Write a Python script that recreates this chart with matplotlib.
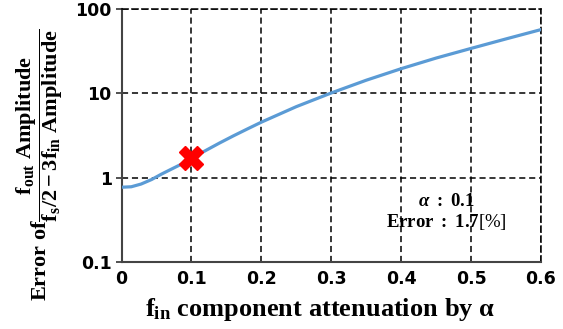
import numpy as np
import matplotlib
matplotlib.use("Agg")
import matplotlib.pyplot as plt

# curve
alpha = [0.0, 0.014, 0.028, 0.043, 0.057, 0.072, 0.086, 0.1, 0.12, 0.14,
         0.16, 0.18, 0.2, 0.25, 0.3, 0.35, 0.4, 0.45, 0.5, 0.55, 0.6]
error = [0.77, 0.78, 0.84, 0.95, 1.10, 1.27, 1.45, 1.70, 2.09, 2.57,
         3.13, 3.78, 4.55, 6.95, 10.1, 14.3, 19.6, 26.2, 34.1, 44.2, 57.0]

mark_x = [0.1]
mark_y = [1.7]

xticks = [0, 0.1, 0.2, 0.3, 0.4, 0.5, 0.6]
xticklabels = ["0", "0.1", "0.2", "0.3", "0.4", "0.5", "0.6"]
yticks = [0.1, 1, 10, 100]
yticklabels = ["0.1", "1", "10", "100"]

plt.rcParams['mathtext.fontset'] = 'custom'
plt.rcParams['mathtext.rm'] = 'Liberation Serif:bold'
plt.rcParams['mathtext.bf'] = 'Liberation Serif:bold'
plt.rcParams['mathtext.it'] = 'Liberation Serif:italic:bold'

fig = plt.figure(figsize=(5.63, 3.29), dpi=100)
ax = fig.add_axes([121.5/563, 1 - 262/329, (541 - 121.5)/563, (262 - 9)/329])

ax.plot(alpha, error, color='#5B9BD5', lw=2.3, zorder=3, solid_joinstyle='round')
ax.plot(mark_x, mark_y, marker='X', ms=17, color='red', mec='red', ls='none', zorder=4)

ax.set_yscale('log')
ax.set_xlim(0, 0.6)
ax.set_ylim(0.1, 100)
ax.set_xticks(xticks)
ax.set_xticklabels(xticklabels)
ax.set_yticks(yticks)
ax.set_yticklabels(yticklabels)
ax.minorticks_off()

for lab in ax.get_xticklabels() + ax.get_yticklabels():
    lab.set_fontfamily('DejaVu Sans')
    lab.set_fontweight('bold')
    lab.set_fontsize(12.5)

ax.tick_params(axis='x', length=0, pad=6)
ax.tick_params(axis='y', length=4, width=1.2, color='#333333', pad=3)

ax.grid(True, color='black', ls=(0, (4, 2.5)), lw=1.1)
for s in ['left', 'bottom']:
    ax.spines[s].set_color('#444444')
    ax.spines[s].set_linewidth(1.5)
for s in ['top', 'right']:
    ax.spines[s].set_color('black')
    ax.spines[s].set_linewidth(1.1)
    ax.spines[s].set_linestyle((0, (4, 2.5)))

ax.set_xlabel(r"$\mathrm{f_{in}\ component\ attenuation\ by\ \alpha}$", fontsize=19)
ax.xaxis.set_label_coords(0.473, -0.135)
ax.set_ylabel(r"$\mathrm{Error\ of}\dfrac{\mathrm{f_{out}\ Amplitude}}{\mathrm{f_s/2-3f_{in}\ Amplitude}}$",
              fontsize=16)
ax.yaxis.set_label_coords(-0.135, 0.383)

ax.text(0.774, 0.245, r"$\it{\alpha}$$\mathrm{\ :\ 0.1}$", transform=ax.transAxes,
        ha='center', va='center', fontsize=13.5)
ax.text(0.774, 0.158, r"$\mathrm{Error\ :\ 1.7}$" + "[%]", transform=ax.transAxes,
        ha='center', va='center', fontsize=13.5, family='Liberation Serif')

fig.savefig('out.png', dpi=100)
